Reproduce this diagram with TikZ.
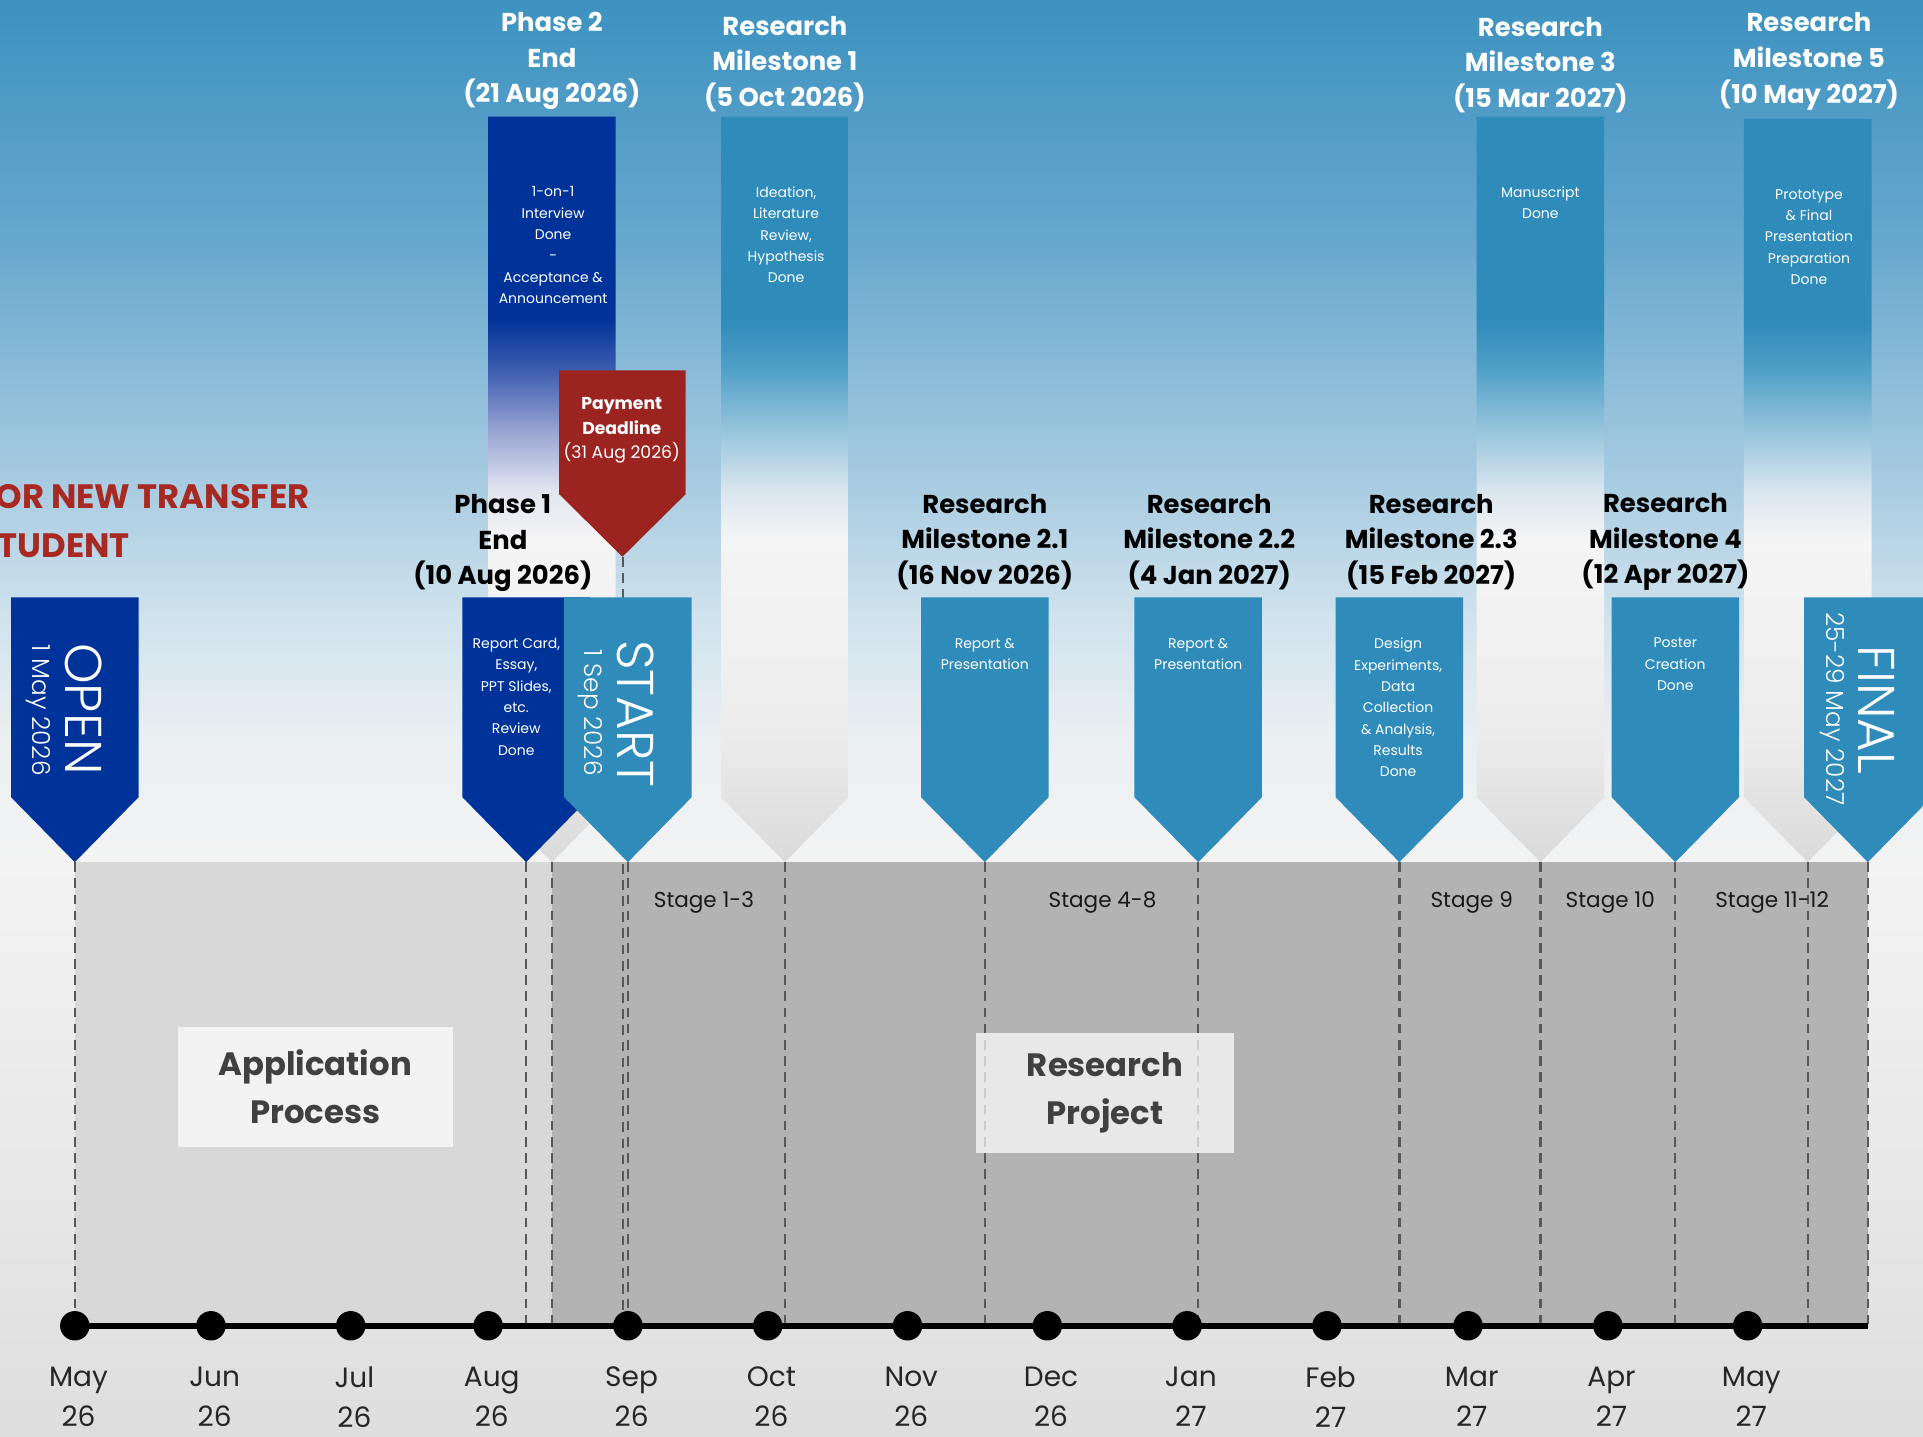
\documentclass[tikz,border=0pt]{standalone}
\usepackage{fontspec}
\setmainfont{Poppins}
\newfontfamily\thinfont{Poppins Light}
\usepackage{tikz}
\usetikzlibrary{positioning, calc}
\usepackage{xcolor}
\definecolor{ifdark}{RGB}{0,51,153}
\definecolor{ifmid}{RGB}{46,139,186}
\definecolor{ifred}{RGB}{155,36,32}
\definecolor{titlered}{RGB}{168,40,34}
\definecolor{appgray}{RGB}{216,216,216}
\definecolor{projgray}{RGB}{179,179,179}
\definecolor{guidegray}{RGB}{88,88,88}
\definecolor{boxtext}{RGB}{64,64,64}
% background
\definecolor{sky0}{RGB}{60,146,192}
\definecolor{sky1}{RGB}{104,168,206}
\definecolor{sky2}{RGB}{170,205,226}
\definecolor{sky3}{RGB}{207,226,237}
\definecolor{sky4}{RGB}{234,239,242}
\definecolor{floor0}{RGB}{243,243,243}
\definecolor{floor1}{RGB}{222,222,222}
% columns
\definecolor{fadeA}{RGB}{80,160,200}
\definecolor{fadeB}{RGB}{150,196,220}
\definecolor{fadeC}{RGB}{218,230,238}
\definecolor{fadeD}{RGB}{60,92,175}
\definecolor{fadeE}{RGB}{150,162,210}
\definecolor{fadeF}{RGB}{226,229,240}
\definecolor{paleA}{RGB}{245,245,245}
\definecolor{paleB}{RGB}{236,236,236}
\definecolor{paleC}{RGB}{218,218,218}
\pgfdeclareverticalshading{skyshade}{100bp}{color(0bp)=(floor1); color(25bp)=(floor1); color(45bp)=(floor0); color(49.4bp)=(sky4); color(53.6bp)=(sky3); color(57.9bp)=(sky2); color(66.5bp)=(sky1); color(75bp)=(sky0); color(100bp)=(sky0)}
\pgfdeclareverticalshading{midfade}{100bp}{color(0bp)=(paleC); color(25bp)=(paleC); color(33.5bp)=(paleB); color(46.6bp)=(paleA); color(49.9bp)=(fadeC); color(54bp)=(fadeB); color(58.1bp)=(fadeA); color(61.4bp)=(ifmid); color(100bp)=(ifmid)}
\pgfdeclareverticalshading{darkfade}{100bp}{color(0bp)=(paleC); color(25bp)=(paleC); color(33.5bp)=(paleB); color(46.6bp)=(paleA); color(49.9bp)=(fadeF); color(54bp)=(fadeE); color(58.1bp)=(fadeD); color(61.4bp)=(ifdark); color(100bp)=(ifdark)}

\tikzset{
  guide/.style={guidegray, line width=1.1pt, dash pattern=on 4.5pt off 3pt},
  timeline/.style={black, line width=2.8pt},
  mdot/.style={circle, fill=black, minimum size=0.48cm, inner sep=0pt},
  month/.style={font=\fontsize{13}{18.5}\selectfont, text=black!85, align=center, inner sep=0pt},
  pentext/.style={text=white, font=\fontsize{6.5}{9.9}\selectfont, align=center, inner sep=0pt, anchor=north},
  toplabel/.style={text=white, font=\bfseries\fontsize{12}{16.5}\selectfont, align=center, inner sep=0pt},
  lowlabel/.style={text=black, font=\bfseries\fontsize{12}{16.5}\selectfont, align=center, inner sep=0pt},
  bigword/.style={text=white, font=\thinfont\fontsize{24}{28}\selectfont, rotate=-90, inner sep=0pt},
  bigdate/.style={text=white, font=\thinfont\fontsize{11.5}{14}\selectfont, rotate=-90, inner sep=0pt},
  stagelabel/.style={text=black!90, font=\fontsize{10}{13}\selectfont, inner sep=0pt},
  phasebox/.style={text=boxtext, font=\bfseries\fontsize{15}{22}\selectfont, align=center, inner sep=0pt},
  titletext/.style={text=titlered, font=\bfseries\fontsize{15.7}{22.7}\selectfont, inner sep=0pt}
}

\begin{document}
\begin{tikzpicture}[x=0.02cm, y=-0.02cm]
    % Cadre
    \useasboundingbox (0,0) rectangle (1568,1171);
    \clip (0,0) rectangle (1568,1171);
    \shade[shading=skyshade] (0,0) rectangle (1568,1171);
    \coordinate (axisL) at (61,1081);
    \coordinate (axisR) at (1523,1081);

    % --- Periods ---
    \fill[appgray] (61,703) rectangle (450,1081);
    \fill[projgray] (450,703) rectangle (1523,1081);

    % --- Tall columns, fading down ---
    \foreach \nm/\cx/\top/\shd in {ph2/450/95/darkfade, ms1/640/95/midfade,
                                   ms3/1256/95/midfade, ms5/1474/97/midfade} {
        \shade[shading=\shd] ({\cx-52},\top) -- ({\cx+52},\top) -- ({\cx+52},650)
            -- (\cx,703) -- ({\cx-52},650) -- cycle;
        \coordinate (tip-\nm) at (\cx,703);
    }

    % --- Payment deadline ---
    \fill[ifred] (456,302) -- (559,302) -- (559,403) -- (507.5,454) -- (456,403) -- cycle;
    \coordinate (tip-pay) at (508,454);
    \draw[guide] (tip-pay) -- (tip-pay |- axisL);

    % --- Short pennants ---
    \foreach \nm/\cx/\col in {open/61/ifdark, ph1/429/ifdark, start/512/ifmid,
                              ms21/803/ifmid, ms22/977/ifmid, ms23/1141/ifmid,
                              ms4/1366/ifmid, final/1523/ifmid} {
        \fill[\col] ({\cx-52},487) -- ({\cx+52},487) -- ({\cx+52},650)
            -- (\cx,703) -- ({\cx-52},650) -- cycle;
        \coordinate (tip-\nm) at (\cx,703);
    }

    % --- Guides down to the time axis ---
    \foreach \nm in {open, ph1, ph2, start, ms1, ms21, ms22, ms23, ms3, ms4, ms5, final} {
        \draw[guide] (tip-\nm) -- (tip-\nm |- axisL);
    }

    % --- Labels above the columns ---
    \node[toplabel] (lbl-ph2) at (450,50) {Phase 2\\End\\(21 Aug 2026)};
    \node[toplabel] (lbl-ms1) at (640,52) {Research\\Milestone 1\\(5 Oct 2026)};
    \node[toplabel] (lbl-ms3) at (1256,53) {Research\\Milestone 3\\(15 Mar 2027)};
    \node[toplabel] (lbl-ms5) at (1475,50) {Research\\Milestone 5\\(10 May 2027)};

    \node[lowlabel] (lbl-ph1) at (410,443) {Phase 1\\End\\(10 Aug 2026)};
    \node[lowlabel] (lbl-ms21) at (803,442) {Research\\Milestone 2.1\\(16 Nov 2026)};
    \node[lowlabel] (lbl-ms22) at (986,442) {Research\\Milestone 2.2\\(4 Jan 2027)};
    \node[lowlabel] (lbl-ms23) at (1167,442) {Research\\Milestone 2.3\\(15 Feb 2027)};
    \node[lowlabel] (lbl-ms4) at (1358,442) {Research\\Milestone 4\\(12 Apr 2027)};

    % --- Texts inside the pennants ---
    \node[pentext] (txt-ph2) at (451,152) {1-on-1\\Interview\\Done\\-\\Acceptance \&\\Announcement};
    \node[pentext] (txt-ms1) at (641,152) {Ideation,\\Literature\\Review,\\Hypothesis\\Done};
    \node[pentext] (txt-ms3) at (1256,152) {Manuscript\\Done};
    \node[pentext] (txt-ms5) at (1475,154) {Prototype\\\& Final\\Presentation\\Preparation\\Done};
    \node[pentext] (txt-ph1) at (421,520) {Report Card,\\Essay,\\PPT Slides,\\etc.\\Review\\Done};
    \node[pentext] (txt-ms21) at (803,520) {Report \&\\Presentation};
    \node[pentext] (txt-ms22) at (977,520) {Report \&\\Presentation};
    \node[pentext] (txt-ms23) at (1140,520) {Design\\Experiments,\\Data\\Collection\\\& Analysis,\\Results\\Done};
    \node[pentext] (txt-ms4) at (1366,520) {Poster\\Creation\\Done};
    \node[text=white, font=\fontsize{8}{11.4}\selectfont, align=center, inner sep=0pt]
        (txt-pay) at (507,351) {\textbf{Payment}\\\textbf{Deadline}\\(31 Aug 2026)};

    % --- Start and end markers ---
    \node[bigword] (w-open) at (68,578) {OPEN};
    \node[bigdate] (d-open) at (31,579) {1 May 2026};
    \node[bigword] (w-start) at (518,582) {START};
    \node[bigdate] (d-start) at (481,581) {1 Sep 2026};
    \node[bigword] (w-final) at (1530,579) {FINAL};
    \node[bigdate] (d-final) at (1494,578) {25-29 May 2027};

    % --- Stages ---
    \foreach \x/\st in {574/1-3, 899/4-8, 1200/9, 1313/10, 1445/11-12} {
        \node[stagelabel] (stage-\st) at (\x,736) {Stage \st};
    }

    % --- Phase boxes ---
    \fill[white!95!black] (145,837) rectangle (369,935);
    \node[phasebox] (app) at (257,886) {Application\\Process};
    \fill[white, fill opacity=0.7] (796,842) rectangle (1006,940);
    \node[phasebox] (proj) at (901,891) {Research\\Project};

    % --- Time axis ---
    \draw[timeline] (axisL) -- (axisR);
    \foreach \x/\mon/\yr [count=\i] in {61/May/26, 172/Jun/26, 286/Jul/26, 398/Aug/26,
                                        512/Sep/26, 626/Oct/26, 740/Nov/26, 854/Dec/26,
                                        968/Jan/27, 1082/Feb/27, 1197/Mar/27, 1311/Apr/27,
                                        1425/May/27} {
        \node[mdot] (m\i) at (\x,1081) {};
        \node[month] (lab\i) at (\x+3,1139) {\mon\\\yr};
    }

    % --- Title, cut by the left edge ---
    \node[titletext, anchor=base east] (ttl1) at (253,415) {FOR NEW TRANSFER};
    \node[titletext, anchor=base west] (ttl2) at ([yshift=-22.7pt]ttl1.base west) {STUDENT};
\end{tikzpicture}
\end{document}
